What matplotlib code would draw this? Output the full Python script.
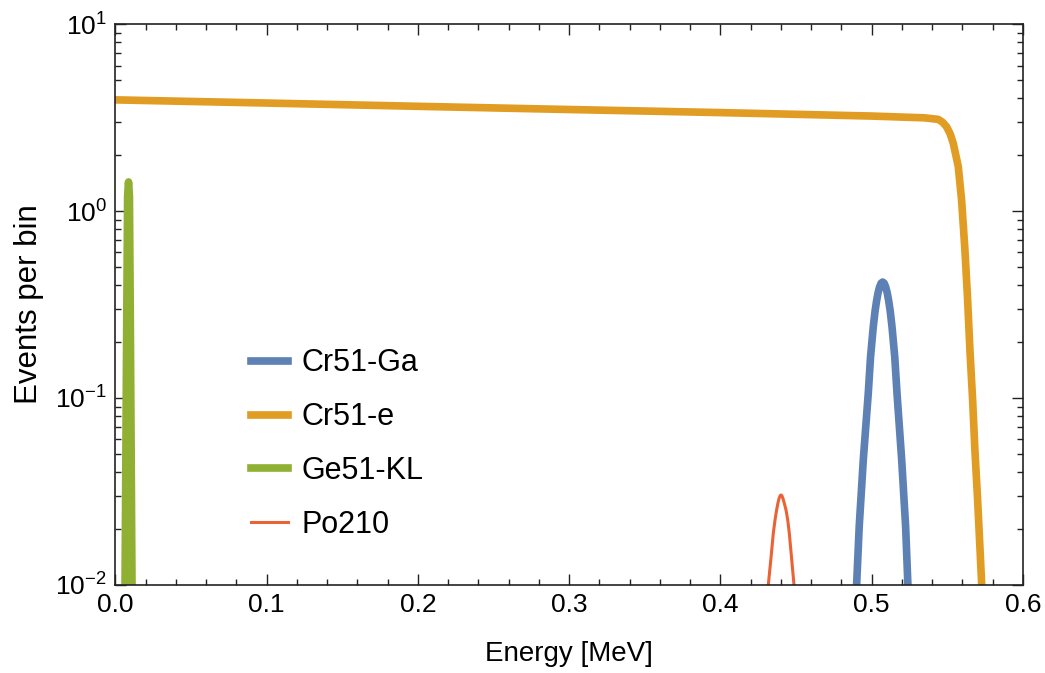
import matplotlib
matplotlib.use('Agg')
import numpy as np
from matplotlib import pyplot as plt
from matplotlib.ticker import LogLocator, MultipleLocator, NullFormatter

# values (energy in MeV, events per bin)
cr51_e_x = [0.0, 0.1, 0.2, 0.3, 0.4, 0.5, 0.535, 0.5441, 0.5470, 0.5496, 0.5520,
            0.5540, 0.5573, 0.5595, 0.5617, 0.5635, 0.5650, 0.5668, 0.5683,
            0.5701, 0.5717, 0.5728]
cr51_e_y = [3.93, 3.78, 3.63, 3.49, 3.36, 3.22, 3.15, 3.09, 2.98, 2.82, 2.58,
            2.30, 1.73, 1.145, 0.619, 0.334, 0.181, 0.0976, 0.0527,
            0.0285, 0.0154, 0.010]

cr51_ga_x = [0.4901, 0.4918, 0.4945, 0.4978, 0.4993, 0.5011, 0.5023, 0.5033, 0.5043,
             0.5053, 0.5063, 0.5073, 0.5083, 0.5093, 0.5103, 0.5113, 0.5123, 0.5135,
             0.5153, 0.5168, 0.5199, 0.5225, 0.5240]
cr51_ga_y = [0.010, 0.0205, 0.0466, 0.106, 0.166, 0.240, 0.292, 0.331, 0.366,
             0.393, 0.411, 0.417, 0.411, 0.393, 0.366, 0.331, 0.292, 0.240,
             0.166, 0.106, 0.0466, 0.0205, 0.010]

ge51_kl_x = [0.0064, 0.0075, 0.0081, 0.0087, 0.0093, 0.0099, 0.0110]
ge51_kl_y = [0.010, 0.25, 1.20, 1.43, 1.20, 0.25, 0.010]

po210_x = [0.4317, 0.4335, 0.4350, 0.4362, 0.4372, 0.4381, 0.4388, 0.4395, 0.4401,
           0.4407, 0.4414, 0.4422, 0.4434, 0.4445, 0.4456, 0.4487]
po210_y = [0.010, 0.0140, 0.0189, 0.0224, 0.0252, 0.0275, 0.0290, 0.0300, 0.0303,
           0.0300, 0.0290, 0.0275, 0.0252, 0.0224, 0.0189, 0.010]

plt.rcParams['font.family'] = ['Liberation Sans', 'DejaVu Sans']
plt.rcParams['mathtext.fontset'] = 'custom'
plt.rcParams['mathtext.rm'] = 'Liberation Sans'

fig = plt.figure(figsize=(10.45, 6.73), dpi=100)
ax = fig.add_axes([0.1104, 0.1308, 0.8684, 0.8335])

ax.plot(cr51_ga_x, cr51_ga_y, color='#5E81B5', lw=5.5, label='Cr51-Ga')
ax.plot(cr51_e_x, cr51_e_y, color='#E19C24', lw=5.5, label='Cr51-e')
ax.plot(ge51_kl_x, ge51_kl_y, color='#8FB032', lw=5.5, label='Ge51-KL')
ax.plot(po210_x, po210_y, color='#EB6235', lw=2.2, label='Po210')

ax.set_yscale('log')
ax.set_xlim(0, 0.6)
ax.set_ylim(1e-2, 1e1)

ax.xaxis.set_major_locator(MultipleLocator(0.1))
ax.xaxis.set_minor_locator(MultipleLocator(0.02))
ax.xaxis.set_major_formatter(plt.FuncFormatter(lambda v, p: f'{v:.1f}'))
ax.yaxis.set_major_locator(LogLocator(base=10, numticks=10))
ax.yaxis.set_minor_locator(LogLocator(base=10, subs=np.arange(2, 10), numticks=10))
ax.yaxis.set_minor_formatter(NullFormatter())

ax.tick_params(which='both', direction='in', top=True, right=True, color='#222222', width=1.0)
ax.tick_params(which='major', length=8, labelsize=19, pad=6)
ax.tick_params(which='minor', length=4.5)
for s in ax.spines.values():
    s.set_color('#222222')
    s.set_linewidth(1.2)

ax.set_xlabel('Energy [MeV]', fontsize=20, labelpad=17)
ax.set_ylabel('Events per bin', fontsize=22.5, labelpad=8)

ax.legend(loc='center left', bbox_to_anchor=(0.150, 0.251), frameon=False, fontsize=22,
          handlelength=1.2, handletextpad=0.45, labelspacing=0.78, borderpad=0, borderaxespad=0)

fig.savefig('out.png', dpi=100)
